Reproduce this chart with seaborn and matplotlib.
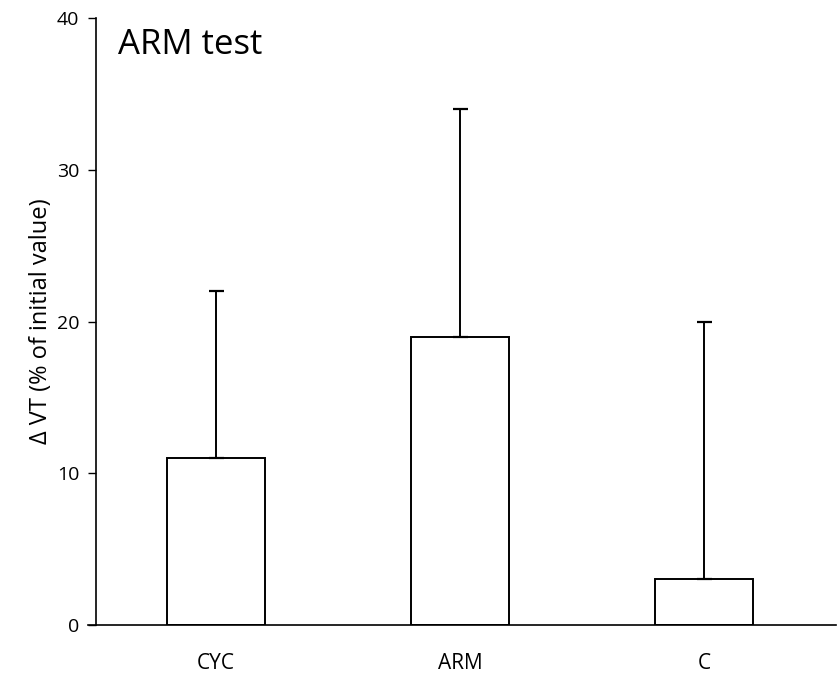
import matplotlib
matplotlib.use("Agg")
import matplotlib.pyplot as plt
import seaborn as sns
import numpy as np

categories = ["CYC", "ARM", "C"]
means = [11.0, 19.0, 3.0]
upper_err = [11.0, 15.0, 17.0]
yticks = [0, 10, 20, 30, 40]

sns.set_style("white")
plt.rcParams['font.family'] = ['Open Sans', 'DejaVu Sans']
plt.rcParams['text.color'] = 'black'
plt.rcParams['axes.labelcolor'] = 'black'
plt.rcParams['xtick.color'] = 'black'
plt.rcParams['ytick.color'] = 'black'

fig = plt.figure(figsize=(8.38, 6.83), dpi=100)
ax = fig.add_axes([96/838, 1-625/683, 740/838, 607/683])

sns.barplot(x=categories, y=means, ax=ax, color="white", edgecolor="black",
            linewidth=1.4, width=0.4, errorbar=None)
xpos = np.arange(len(categories))
ax.errorbar(xpos, means, yerr=[np.zeros(len(means)), upper_err], fmt="none",
            ecolor="black", elinewidth=1.4, capsize=5.4, capthick=1.6)

ax.set_xlim(-0.49, 2.54)
ax.set_ylim(0, 40)
ax.set_yticks(yticks)
ax.set_yticklabels([str(t) for t in yticks], fontsize=14)
ax.tick_params(axis="y", direction="out", length=6, width=1, color="black", pad=6, left=True)
ax.tick_params(axis="x", length=0, pad=20, labelsize=15)
for s in ["top", "right"]:
    ax.spines[s].set_visible(False)
for s in ["left", "bottom"]:
    ax.spines[s].set_color("black")
    ax.spines[s].set_linewidth(1.2)
ax.spines["bottom"].set_bounds(-0.523, 2.54)
ax.set_ylabel("Δ VT (% of initial value)", fontsize=17, labelpad=3)
ax.set_xlabel("")
ax.text(0.03, 0.955, "ARM test", transform=ax.transAxes, fontsize=25,
        ha="left", va="center")

fig.savefig("out.png", dpi=100)
